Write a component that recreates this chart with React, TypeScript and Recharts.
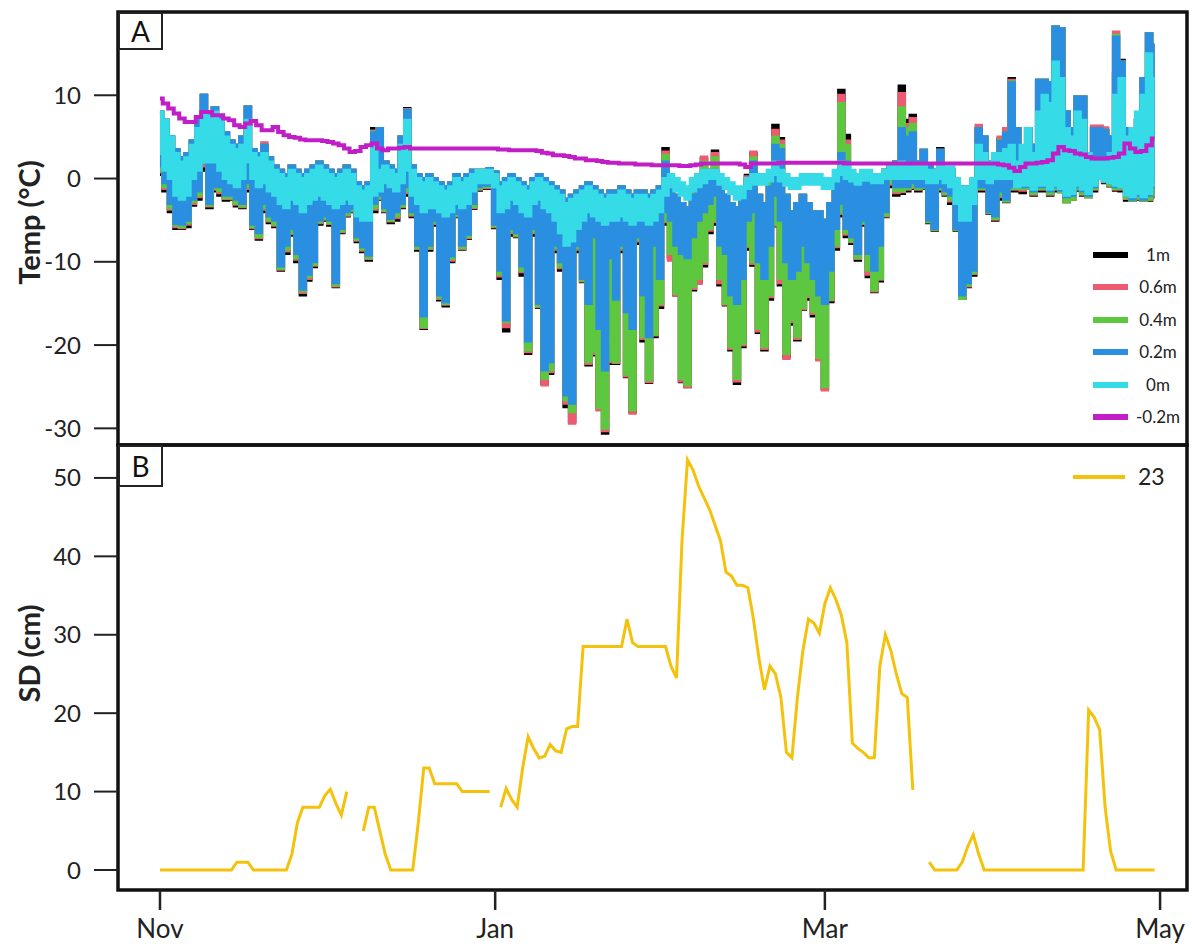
import React from 'react';
import { ComposedChart, Area, Line, XAxis, YAxis, ReferenceArea, Legend } from 'recharts';

const FONT = 'Lato, "Open Sans", sans-serif';

// x axis: days since 1 Nov
const monthTicks = [0, 61, 121, 182];
const monthLabels = ['Nov', 'Jan', 'Mar', 'May'];
const tempTicks = [-30, -20, -10, 0, 10];
const sdTicks = [0, 10, 20, 30, 40, 50];

const seriesNames = ['1m', '0.6m', '0.4m', '0.2m', '0m', '-0.2m'];
const seriesColors = ['#000000', '#ec5b70', '#5dc73f', '#2a8fe0', '#35dbe6', '#c21ec8'];
const sdName = '23';
const sdColor = '#f4c20c';

// daily low / high, sensor at 1m
const lo1m = [
  0.5, -1.5, -4, -6, -6, -5.8, -3.2, -2.5, 1, -3.5,
  -1.5, -2, -2.6, -2.5, -3.3, -3.5, -1.5, -6, -7.3, -4,
  -5.3, -5.8, -11, -9, -6.8, -10, -14, -12.2, -10.6, -5.5,
  -5, -5.6, -13, -6.5, -4.5, -4, -7.6, -8.8, -9.8, -4,
  -2.5, -4, -5.3, -5, -3.5, -2, -4.6, -8.6, -18, -8.6,
  -5.6, -14.6, -15.3, -10, -4.6, -8.5, -7.2, -3.6, -1.4, -1.2,
  -1.2, -5.9, -12, -18.3, -6.8, -7, -11.6, -21, -6.8, -15.5,
  -24.6, -23.4, -8.8, -11, -27.4, -29.2, -8.8, -12.4, -22.4, -21.2,
  -27.6, -30.6, -22.2, -22.2, -8.8, -23.8, -28, -7.8, -19.5, -24.5,
  -19, -15.5, -5.5, -9.5, -14, -24.4, -25, -13.4, -12.4, -10.5,
  -6.5, -5.5, -12.8, -15.2, -20.6, -24.6, -20.2, -8.5, -10.4, -18.5,
  -20.6, -14.5, -5.7, -12.8, -21.4, -17.5, -19.4, -15.7, -14.5, -16.5,
  -21.6, -25.2, -14.8, -8.5, -4.5, -7, -7.8, -9.8, -5.6, -11.8,
  -13.6, -12.3, -4.6, -1, -2, -1.8, -1.5, -1.2, -1.5, -1.2,
  -5.3, -6.2, -1.5, -2, -3, -6.2, -14.4, -13, -11.6, -1.5,
  -1.5, -4.2, -5, -2.5, -2.8, -1.5, -1.5, -1.7, -1.2, -2,
  -1.5, -1.5, -2, -1.5, -1.6, -2.8, -2.5, -1.4, -2, -2.2,
  -1.5, 0.2, -0.5, -0.9, -1.4, -1.5, -2.6, -2.6, -2.5, -2.6,
  -2.6, -2.2,
];
const hi1m = [
  8, 7, 5, 3.5, 2.5, 3, 4.5, 7, 10, 8,
  8.5, 7.5, 5.5, 4.5, 4, 5, 8.6, 3.5, 3, 4,
  2.5, 1.5, 1, 0.5, 1.5, 1, 0.5, 1, 1.5, 2,
  1.5, 1, 0.5, 1, 1.5, 1, -0.5, -1, -0.5, 6,
  6, 2, 1.5, 1, 5, 8.4, 1.5, 0.5, 0, 0.5,
  0, -0.5, -1, -0.5, 0.5, 0, 0.5, 1, 1, 1,
  1.2, 0.8, -0.5, 0, 0.5, 0, -0.5, -1, 0, 0.5,
  0, -0.5, -1, -1.5, -2.5, -2, -1.5, -1, -0.5, -1,
  -1.5, -2, -1.5, -1.5, -1, -1.5, -2, -1.5, -1.5, -2,
  -1.5, -1, 3.6, -1, -2, -3, -3.5, -1, 0.5, 2.4,
  1, 3.3, 0, -2, -3, -3.5, -2, 0.4, 3, -2,
  -3, 0, 6.4, 4.8, -2, -4, -3, -2, -3, -4,
  -4, -5, -3, 0, 10.6, 5.2, 0, 0, 0.5, 0,
  -0.5, 0, 1, 1.5, 2, 11.1, 7, 7.6, 2, 3.4,
  1.5, 1, 3.6, 1, 1, 0, -1, -1, 0, 6,
  5, 2, 3, 4.8, 5.8, 12, 6, 3, 6, 4,
  11.8, 11.8, 11.5, 18.2, 18, 8, 6, 9.8, 9.8, 2,
  6, 6, 5.8, 5, 12.6, 14.2, 6, 5, 7, 12,
  17.4, 16,
];

// sensor at 0.6m
const lo06 = [
  0.8, -1.2, -3.7, -5.8, -5.9, -5.5, -3, -2.2, 1.5, -3.3,
  -1.3, -1.7, -2.4, -2.4, -3.1, -3.4, -1.2, -5.9, -7.1, -3.7,
  -5.1, -5.6, -10.9, -8.7, -6.6, -9.7, -13.7, -12, -10.4, -5.3,
  -4.9, -5.4, -12.9, -6.4, -4.4, -3.9, -7.4, -8.6, -9.6, -3.7,
  -2.4, -3.9, -5.1, -4.7, -3.4, -1.7, -4.4, -8.4, -17.9, -8.4,
  -5.4, -14.4, -15.1, -9.8, -4.5, -8.4, -7.1, -3.5, -1.3, -1.1,
  -1.1, -5.8, -11.7, -17.8, -6.5, -6.9, -11.2, -20.8, -6.5, -15.4,
  -24.8, -23.2, -8.5, -10.7, -27, -29.4, -8.5, -12.3, -22.2, -21,
  -27.8, -30.3, -22, -22.1, -8.5, -23.7, -28.2, -7.5, -19.2, -24.4,
  -18.8, -15.2, -5.2, -9.8, -14, -24.3, -25, -13.2, -12.6, -10.2,
  -6.2, -5.2, -12.5, -15.1, -20.4, -24.3, -20, -8.2, -10.2, -18.3,
  -20.4, -14.2, -5.6, -12.5, -21.6, -17.2, -19.2, -15.6, -14.2, -16.2,
  -21.8, -25.4, -14.6, -8.2, -4.2, -6.7, -7.6, -9.6, -5.4, -11.5,
  -13.5, -12.1, -4.5, -0.7, -1.7, -1.6, -1.3, -1.1, -1.3, -1.1,
  -5.2, -6.1, -1.3, -1.9, -2.7, -6.1, -14.4, -12.9, -11.4, -1.3,
  -1.3, -4.1, -4.9, -2.2, -2.7, -1.3, -1.3, -1.4, -1.2, -1.9,
  -1.3, -1.3, -1.9, -1.3, -1.6, -2.8, -2.5, -1.3, -1.9, -2.2,
  -1.3, 0.3, -0.4, -0.8, -1.3, -1.3, -2.4, -2.6, -2.4, -2.6,
  -2.5, -2.1,
];
const hi06 = [
  8, 7, 5, 3.5, 2.5, 3, 4.5, 7, 10, 8,
  8.5, 7.5, 5.5, 4.5, 4, 5, 8.6, 3.5, 3, 4.3,
  2.5, 1.5, 1, 0.5, 1.5, 1, 0.5, 1, 1.5, 2,
  1.5, 1, 0.5, 1, 1.5, 1, -0.5, -1, -0.5, 5.7,
  6, 2, 1.5, 1, 5, 8.3, 1.5, 0.5, 0, 0.5,
  0, -0.5, -1, -0.5, 0.5, 0, 0.5, 1, 1, 1,
  1.2, 0.8, -0.5, 0, 0.5, 0, -0.5, -1, 0, 0.5,
  0, -0.5, -1, -1.5, -2.5, -2, -1.5, -1, -0.5, -1,
  -1.5, -2, -1.5, -1.5, -1, -1.5, -2, -1.5, -1.5, -2,
  -1.5, -1, 3.2, -1, -2, -3, -3.5, -1, 0.5, 2.6,
  1, 3, 0, -2, -3, -3.5, -2, 0.2, 3.2, -2,
  -3, 0, 5.8, 4.5, -2, -4, -3, -2, -3, -4,
  -4, -5, -3, 0, 10, 4.5, 0, 0, 0.5, 0,
  -0.5, 0, 1, 1.5, 2, 10.2, 6.5, 7.2, 2, 3.4,
  1.5, 1, 3.4, 1, 1, 0, -1, -1, 0, 6.4,
  5, 2, 3, 5, 6, 11.8, 6, 3, 6, 4,
  11.8, 11.8, 11.5, 18.2, 18, 8, 6, 9.8, 9.8, 2,
  6.3, 6.3, 6.1, 5, 17.6, 14, 6, 5, 7, 12,
  17.4, 16,
];

// sensor at 0.4m
const lo04 = [
  1, -1, -3.5, -5.6, -5.8, -5.3, -2.8, -2, 2, -3.2,
  -1.2, -1.5, -2.3, -2.3, -3, -3.3, -1, -5.8, -7, -3.5,
  -5, -5.5, -10.8, -8.5, -6.5, -9.5, -13.5, -11.8, -10.3, -5.2,
  -4.8, -5.3, -12.8, -6.3, -4.3, -3.8, -7.3, -8.5, -9.5, -3.5,
  -2.3, -3.8, -5, -4.5, -3.3, -1.5, -4.3, -8.3, -17.8, -8.3,
  -5.3, -14.3, -15, -9.6, -4.4, -8.3, -7, -3.4, -1.2, -1,
  -1, -5.7, -11.5, -17.2, -6.3, -6.8, -11, -20.6, -6.3, -15.3,
  -24, -23, -8.3, -10.5, -26.6, -28, -8.3, -12.2, -22, -20.8,
  -27.5, -30, -21.8, -22, -8.3, -23.5, -27.8, -7.3, -19, -24.2,
  -18.7, -15, -5, -9, -13.8, -24, -24.8, -13, -12, -10,
  -6, -5, -12, -15, -20.2, -24, -19.8, -8, -10, -18,
  -20.2, -14, -5.5, -12, -21, -17, -19, -15.5, -14, -16,
  -21.5, -25, -14.5, -8, -4, -6.5, -7.5, -9.5, -5.3, -11,
  -13.4, -12, -4.4, -0.5, -1.5, -1.5, -1.2, -1, -1.2, -1.1,
  -5.2, -6.1, -1.2, -1.8, -2.5, -6.1, -14.4, -12.8, -11.3, -1.2,
  -1.2, -4.1, -4.8, -2, -2.7, -1.2, -1.2, -1.2, -1.2, -1.8,
  -1.2, -1.2, -1.8, -1.2, -1.6, -2.8, -2.5, -1.2, -1.8, -2.2,
  -1.2, 0.5, -0.3, -0.8, -1.2, -1.2, -2.3, -2.6, -2.3, -2.6,
  -2.5, -2,
];
const hi04 = [
  8, 7, 5, 3.5, 2.5, 3, 4.5, 7, 10, 8,
  8.5, 7.5, 5.5, 4.5, 4, 5, 8.6, 3.5, 3, 4,
  2.5, 1.5, 1, 0.5, 1.5, 1, 0.5, 1, 1.5, 2,
  1.5, 1, 0.5, 1, 1.5, 1, -0.5, -1, -0.5, 5.6,
  6, 2, 1.5, 1, 5, 8.2, 1.5, 0.5, 0, 0.5,
  0, -0.5, -1, -0.5, 0.5, 0, 0.5, 1, 1, 1,
  1.2, 0.8, -0.5, 0, 0.5, 0, -0.5, -1, 0, 0.5,
  0, -0.5, -1, -1.5, -2.5, -2, -1.5, -1, -0.5, -1,
  -1.5, -2, -1.5, -1.5, -1, -1.5, -2, -1.5, -1.5, -2,
  -1.5, -1, 2.8, -1, -2, -3, -3.5, -1, 0.5, 2,
  1, 2.5, 0, -2, -3, -3.5, -2, 0, 2.5, -2,
  -3, 0, 5, 4, -2, -4, -3, -2, -3, -4,
  -4, -5, -3, 0, 9, 4, 0, 0, 0.5, 0,
  -0.5, 0, 1, 1.5, 2, 8.5, 6, 6.5, 2, 3.4,
  1.5, 1, 3.4, 1, 1, 0, -1, -1, 0, 6,
  5, 2, 3, 4.6, 5.5, 11.6, 6, 3, 6, 4,
  11.8, 11.8, 11.5, 18.2, 18, 8, 6, 9.8, 9.8, 2,
  6, 6, 5.8, 5, 17.2, 14, 6, 5, 7, 12,
  17.4, 16,
];

// sensor at 0.2m
const lo02 = [
  1.5, -0.5, -3, -5.4, -5.5, -5, -2.5, -1.5, 3, -3,
  -1, -1, -2, -2, -2.5, -3, -0.5, -5.5, -6.5, -3,
  -4.5, -5, -10.5, -8, -6, -9, -13.3, -11.5, -10, -5,
  -4.5, -5, -12.5, -6, -4, -3.6, -7, -8.2, -9.2, -3,
  -2, -3.5, -4.8, -4, -3, -1, -4, -8, -16.5, -8,
  -5, -14, -14.8, -9.3, -4.2, -8, -6.7, -3, -1, -0.8,
  -0.8, -5.5, -11, -17, -6, -6.5, -10.5, -19.5, -6, -15,
  -23, -22, -8, -10, -26, -27, -8, -12, -15, -7,
  -18, -23, -9.5, -14.5, -8, -16, -18, -7, -14, -19,
  -8, -12, -4, -5, -8, -9, -9.5, -7, -5, -4,
  -3, -2, -8, -9, -14, -15, -12, -5, -4, -10,
  -12, -8, -2, -5, -10, -12, -11, -8, -10, -12,
  -14, -15, -11, -6, -3, -6, -7, -9, -5, -9,
  -11, -8, -4, 0, -1, -1, -1, -0.5, -1, -1,
  -5, -6, -1, -1.5, -2, -6, -14, -12.5, -11, -1,
  -1, -4, -4.5, -1.5, -2.5, -1, -1, -1, -1, -1.5,
  -1, -1, -1.5, -1, -1.4, -2.2, -2, -1, -1.5, -2,
  -1, 1, 0, -0.5, -1, -1, -2, -2.5, -2, -2.5,
  -2, -1,
];
const hi02 = [
  8, 7, 5, 3.5, 2.5, 3, 4.5, 7, 10, 8,
  8.5, 7.5, 5.5, 4.5, 4, 5, 8.6, 3.5, 3, 4,
  2.5, 1.5, 1, 0.5, 1.5, 1, 0.5, 1, 1.5, 2,
  1.5, 1, 0.5, 1, 1.5, 1, -0.5, -1, -0.5, 5.5,
  6, 2, 1.5, 1, 5, 8.2, 1.5, 0.5, 0, 0.5,
  0, -0.5, -1, -0.5, 0.5, 0, 0.5, 1, 1, 1,
  1.2, 0.8, -0.5, 0, 0.5, 0, -0.5, -1, 0, 0.5,
  0, -0.5, -1, -1.5, -2.5, -2, -1.5, -1, -0.5, -1,
  -1.5, -2, -1.5, -1.5, -1, -1.5, -2, -1.5, -1.5, -2,
  -1.5, -1, 2, -1, -2, -3, -3.5, -2, -1, 0,
  0.5, 1, 0, -2, -3, -3.5, -2, 0, 2, -2,
  -3, -1, 4, 3.5, -2, -4, -3, -2, -3, -4,
  -4, -5, -3, 0, 3, 2, 0, 0, 0.5, 0,
  -0.5, 0, 1, 1.5, 2, 6, 5, 5.5, 2, 3.4,
  1.5, 1, 3.4, 1, 1, 0, -1, -1, 0, 6,
  5, 2, 3, 4.5, 5.5, 11.5, 6, 3, 6, 4,
  11.8, 11.8, 11.5, 18.2, 18, 8, 6, 9.8, 9.8, 2,
  6, 6, 5.8, 5, 17, 14, 6, 5, 7, 12,
  17.4, 16,
];

// sensor at ground level (0m)
const lo0 = [
  3, 1, 0, -2, -2.5, -2, 0, 1, 2, 2,
  2, 1, 0, -0.5, -1, 0, 2, 0, -1, -0.5,
  -1.5, -2, -3, -3.5, -2.5, -3, -4, -3, -2.5, -2,
  -2.5, -3, -3.5, -3, -2.5, -3, -4.5, -5, -5, -2,
  -1.5, -0.5, -1, -1.5, -0.5, 1, -2, -3, -4, -3.5,
  -3.5, -4, -4.5, -4, -3, -3.5, -3, -1.5, -0.5, -0.5,
  -0.5, -1, -4, -3.5, -2.5, -3, -4, -4.5, -3, -2.5,
  -3.5, -4, -5, -6.5, -8, -7.5, -6, -5, -4, -4.5,
  -5, -5.5, -5, -5, -4.5, -5, -5.5, -5, -5, -5.5,
  -5, -4, -2, -1, -1.5, -2, -2.5, -1.5, -1, -0.5,
  0, 0, -0.7, -1.2, -1.8, -2.5, -2.3, -1.2, -0.7, -0.7,
  -0.7, -0.3, 0.5, -0.3, -0.8, -1.2, -1.2, -0.7, -0.7, -0.7,
  -0.7, -1.2, -1.2, -0.3, 0.5, 0, -0.3, -0.7, -0.2, -0.2,
  -0.5, -0.5, 0, 0, 0, 0, 0, 0, 0, 0,
  -0.5, -0.5, 0, -0.5, -1, -3, -5, -5, -3, 0,
  0, -0.5, 0, 0, 0, 0, -1, -0.8, -0.8, -1.3,
  -0.8, -0.8, -1.3, -0.8, -1.2, -2, -1.8, -0.8, -1.3, -1.8,
  -0.8, 0, -0.3, -0.5, -0.8, -1, -2, -2.2, -1.8, -2.2,
  -1.8, -0.8,
];
const hi0 = [
  8, 7, 5, 3, 2, 2.5, 4, 6, 8, 7.5,
  8, 7, 5, 4, 3.5, 4, 7, 3, 2.5, 3,
  2, 1, 0.5, 0, 1, 0.5, 0, 0.5, 1, 1.5,
  1, 0.5, 0, 0.5, 1, 0.5, -1, -1.5, -1, 4,
  1, 1.5, 1, 0.5, 4, 7, 1, 0, -0.5, 0,
  -0.5, -1, -1.5, -1, 0, -0.5, 0, 0.5, 1, 1,
  1, 0.5, -1, -0.5, 0, -0.5, -1, -1.5, -0.5, 0,
  -0.5, -1, -1.5, -2, -3, -2.5, -2, -1.5, -1, -1.5,
  -2, -2.5, -2, -2, -1.5, -2, -2.5, -2, -2, -2.5,
  -2, -1.5, 0, 0.5, 0, -0.5, -1, 0, 0.5, 1,
  1, 1, 0.5, 0, -0.5, -1, -1, 0, 0.5, 0.5,
  0.5, 1, 2, 1, 0.5, 0, 0, 0.5, 0.5, 0.5,
  0.5, 0, 0, 1, 2, 1.5, 1, 0.5, 1, 1,
  0.5, 0.5, 1, 1.5, 1.5, 2, 1.5, 1.5, 1.5, 1.5,
  1, 1, 1.5, 1.4, 1.4, 0, -1, -1, 0, 4,
  3, 2, 3, 3, 3.5, 4, 2, 4, 6, 3,
  8, 10, 9, 14, 12, 6, 5, 8, 7, 3,
  2, 2, 2, 3, 10, 12, 5, 6, 8, 10,
  15, 12,
];

// soil at -0.2m
const soil = [
  9.6, 9.0, 8.4, 7.8, 7.2, 6.8, 6.8, 7.4, 8.0, 8.0,
  7.6, 7.6, 7.2, 7.0, 6.4, 6.2, 6.6, 6.9, 6.4, 5.8,
  5.8, 6.2, 5.6, 5.2, 5.0, 4.9, 4.7, 4.6, 4.6, 4.6,
  4.5, 4.4, 4.2, 4.0, 3.6, 3.2, 3.3, 3.8, 4.0, 4.2,
  3.6, 3.4, 3.6, 3.6, 3.7, 3.8, 3.6, 3.6, 3.6, 3.6,
  3.6, 3.6, 3.6, 3.6, 3.6, 3.6, 3.6, 3.6, 3.6, 3.6,
  3.6, 3.6, 3.5, 3.5, 3.4, 3.4, 3.4, 3.4, 3.4, 3.3,
  3.1, 3.0, 2.8, 2.8, 2.7, 2.6, 2.4, 2.4, 2.2, 2.2,
  2.1, 2.0, 1.9, 1.9, 1.8, 1.8, 1.8, 1.7, 1.7, 1.7,
  1.6, 1.6, 1.6, 1.6, 1.6, 1.5, 1.5, 1.6, 1.7, 1.8,
  1.8, 1.8, 1.8, 1.8, 1.8, 1.8, 1.7, 1.4, 1.8, 1.8,
  1.8, 1.8, 1.8, 1.9, 1.9, 1.9, 1.9, 1.9, 1.9, 1.9,
  1.9, 1.9, 1.9, 1.9, 1.9, 1.8, 1.8, 1.8, 1.8, 1.8,
  1.8, 1.8, 1.8, 1.8, 1.8, 1.8, 1.8, 1.8, 1.8, 1.8,
  1.8, 1.8, 1.8, 1.8, 1.8, 1.8, 1.8, 1.8, 1.8, 1.8,
  1.8, 1.8, 1.8, 1.7, 1.6, 1.3, 0.9, 1.4, 1.8, 1.8,
  1.9, 2.0, 2.2, 3.0, 3.8, 3.4, 3.3, 3.0, 2.9, 2.6,
  2.4, 2.4, 2.4, 2.5, 2.6, 3.0, 4.2, 3.6, 3.2, 3.3,
  4.0, 4.8,
];

// snow depth, cm (null = no reading)
const snowDepth = [
  0, 0, 0, 0, 0, 0, 0, 0, 0, 0,
  0, 0, 0, 0, 1, 1, 1, 0, 0, 0,
  0, 0, 0, 0, 2, 6, 8, 8, 8, 8,
  9.5, 10.3, 8.5, 7, 10, null, null, 5, 8, 8,
  5, 2, 0, 0, 0, 0, 0, 6, 13, 13,
  11, 11, 11, 11, 11, 10, 10, 10, 10, 10,
  10, null, 8, 10.4, 9, 8, 13, 17, 15.5, 14.3,
  14.5, 16, 15.2, 15, 18, 18.3, 18.3, 28.5, 28.5, 28.5,
  28.5, 28.5, 28.5, 28.5, 28.5, 32, 29, 28.5, 28.5, 28.5,
  28.5, 28.5, 28.5, 26, 24.5, 42, 52.3, 51, 49, 47.5,
  46, 44, 42, 38, 37.5, 36.3, 36.3, 36, 32, 27,
  23, 26, 25, 22, 15, 14.3, 22, 28, 32, 31.5,
  30.2, 34, 36, 34.5, 32.5, 29, 16.2, 15.5, 15, 14.3,
  14.3, 26, 30, 28, 25, 22.5, 22, 10.2, null, null,
  1, 0, 0, 0, 0, 0, 1, 3, 4.5, 2,
  0, 0, 0, 0, 0, 0, 0, 0, 0, 0,
  0, 0, 0, 0, 0, 0, 0, 0, 0, 20.4,
  19.5, 17.9, 8, 2.4, 0, 0, 0, 0, 0, 0,
  0, 0,
];

const X_DOMAIN: [number, number] = [-7.64, 186.9];
const TEMP_DOMAIN: [number, number] = [-32, 20];
const SD_DOMAIN: [number, number] = [-2.55, 54.2];

const tempRows = soil.map((s, i) => ({
  day: i,
  m1: [lo1m[i], hi1m[i]],
  m06: [lo06[i], hi06[i]],
  m04: [lo04[i], hi04[i]],
  m02: [lo02[i], hi02[i]],
  m0: [lo0[i], hi0[i]],
  soil: s,
}));

const sdRows = snowDepth.map((v, i) => ({ day: i, sd: v }));

const bandKeys = ['m1', 'm06', 'm04', 'm02', 'm0'];

const tickStyle = { fill: '#222', fontSize: 24, fontFamily: FONT };
const tickLineStyle = { stroke: '#222', strokeWidth: 2 };

function AxisTitle(props: any) {
  const { viewBox, text, dy } = props;
  const cx = 28;
  const cy = viewBox.y + viewBox.height / 2 + dy;
  return (
    <text
      x={cx}
      y={cy}
      transform={`rotate(-90 ${cx} ${cy})`}
      textAnchor="middle"
      dominantBaseline="central"
      fontFamily={FONT}
      fontWeight={700}
      fontSize={29}
      fill="#222"
    >
      {text}
    </text>
  );
}

function TempLegend() {
  return (
    <div style={{ position: 'relative', width: 0, height: 0 }}>
      {seriesNames.map((name, i) => (
        <div key={name} style={{ position: 'absolute', left: 1093, top: 243 + i * 32.4, width: 100, height: 24 }}>
          <div style={{ position: 'absolute', left: 0, top: 9, width: 35, height: 6, background: seriesColors[i] }} />
          <span
            style={{
              position: 'absolute',
              left: 65,
              top: 0,
              transform: 'translateX(-50%)',
              fontFamily: FONT,
              fontSize: 17,
              lineHeight: '24px',
              color: '#222',
              whiteSpace: 'nowrap',
            }}
          >
            {name}
          </span>
        </div>
      ))}
    </div>
  );
}

function SdLegend() {
  return (
    <div style={{ position: 'relative', width: 0, height: 0 }}>
      <div style={{ position: 'absolute', left: 1073, top: 35, width: 52, height: 4, background: sdColor }} />
      <span
        style={{
          position: 'absolute',
          left: 1138,
          top: 21,
          fontFamily: FONT,
          fontSize: 23,
          lineHeight: '30px',
          color: '#222',
          whiteSpace: 'nowrap',
        }}
      >
        {sdName}
      </span>
    </div>
  );
}

const panelBox = {
  position: 'absolute' as const,
  left: 118,
  width: 45,
  boxSizing: 'border-box' as const,
  border: '2px solid #222',
  background: '#fff',
  fontFamily: FONT,
  fontSize: 28,
  color: '#111',
  textAlign: 'center' as const,
};

export default function App() {
  return (
    <div style={{ position: 'absolute', left: 0, top: 0, width: 1192, height: 947, background: '#fff' }}>
      <div style={{ position: 'absolute', left: 0, top: 0 }}>
        <ComposedChart width={1192} height={450} data={tempRows} margin={{ top: 12, right: 5, bottom: 5, left: 0 }}>
          <XAxis dataKey="day" type="number" domain={X_DOMAIN} allowDataOverflow hide />
          <YAxis
            type="number"
            domain={TEMP_DOMAIN}
            allowDataOverflow
            ticks={tempTicks}
            interval={0}
            width={118}
            tickSize={24}
            tickMargin={13}
            axisLine={false}
            tickLine={tickLineStyle}
            tick={tickStyle}
            label={<AxisTitle text="Temp (°C)" dy={-6} />}
          />
          {bandKeys.map((key, i) => (
            <Area
              key={key}
              type="step"
              dataKey={key}
              name={seriesNames[i]}
              stroke={seriesColors[i]}
              strokeWidth={3}
              fill={seriesColors[i]}
              fillOpacity={1}
              dot={false}
              activeDot={false}
              isAnimationActive={false}
            />
          ))}
          <Line
            type="step"
            dataKey="soil"
            name={seriesNames[5]}
            stroke={seriesColors[5]}
            strokeWidth={4}
            dot={false}
            activeDot={false}
            isAnimationActive={false}
          />
          <ReferenceArea
            x1={X_DOMAIN[0]}
            x2={X_DOMAIN[1]}
            y1={TEMP_DOMAIN[0]}
            y2={TEMP_DOMAIN[1]}
            fill="none"
            fillOpacity={0}
            stroke="#111"
            strokeWidth={3.5}
            ifOverflow="visible"
          />
          <Legend
            layout="horizontal"
            verticalAlign="middle"
            align="center"
            wrapperStyle={{ left: 0, top: 0, width: 0, height: 0 }}
            content={() => <TempLegend />}
          />
        </ComposedChart>
      </div>

      <div style={{ position: 'absolute', left: 0, top: 440 }}>
        <ComposedChart width={1192} height={507} data={sdRows} margin={{ top: 5, right: 5, bottom: 0, left: 0 }}>
          <XAxis
            dataKey="day"
            type="number"
            domain={X_DOMAIN}
            allowDataOverflow
            ticks={monthTicks}
            interval={0}
            tickFormatter={(v: number) => monthLabels[monthTicks.indexOf(v)]}
            height={57}
            tickSize={20}
            tickMargin={10}
            axisLine={false}
            tickLine={{ stroke: '#222', strokeWidth: 2.5 }}
            tick={{ fill: '#222', fontSize: 26, fontFamily: FONT }}
          />
          <YAxis
            type="number"
            domain={SD_DOMAIN}
            allowDataOverflow
            ticks={sdTicks}
            interval={0}
            width={118}
            tickSize={24}
            tickMargin={13}
            axisLine={false}
            tickLine={tickLineStyle}
            tick={tickStyle}
            label={<AxisTitle text="SD (cm)" dy={-14} />}
          />
          <Line
            type="linear"
            dataKey="sd"
            name={sdName}
            stroke={sdColor}
            strokeWidth={3}
            dot={false}
            activeDot={false}
            connectNulls={false}
            isAnimationActive={false}
          />
          <ReferenceArea
            x1={X_DOMAIN[0]}
            x2={X_DOMAIN[1]}
            y1={SD_DOMAIN[0]}
            y2={SD_DOMAIN[1]}
            fill="none"
            fillOpacity={0}
            stroke="#111"
            strokeWidth={3.5}
            ifOverflow="visible"
          />
          <Legend
            layout="horizontal"
            verticalAlign="middle"
            align="center"
            wrapperStyle={{ left: 0, top: 0, width: 0, height: 0 }}
            content={() => <SdLegend />}
          />
        </ComposedChart>
      </div>

      <div style={{ ...panelBox, top: 12, height: 38, lineHeight: '34px' }}>A</div>
      <div style={{ ...panelBox, top: 445, height: 42, lineHeight: '38px' }}>B</div>
    </div>
  );
}
